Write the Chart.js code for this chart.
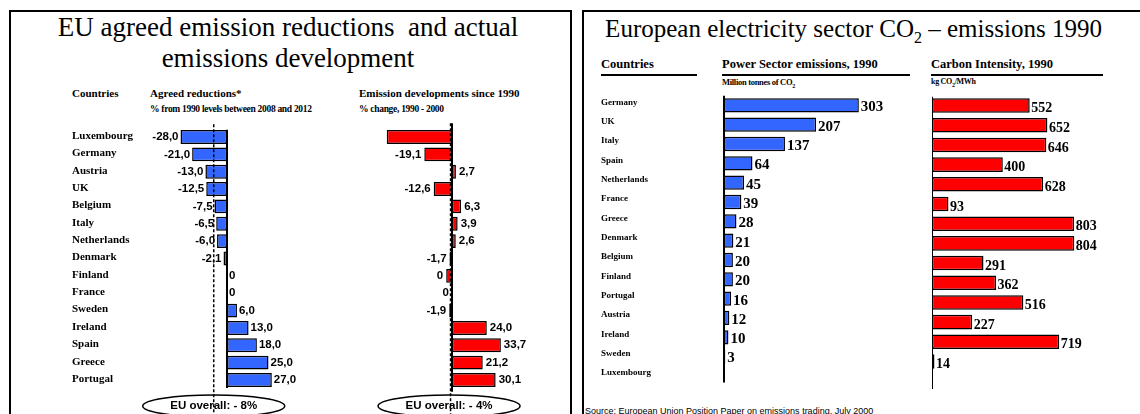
<!DOCTYPE html>
<html>
<head>
<meta charset="utf-8">
<script src="https://cdn.jsdelivr.net/npm/chart.js@4.4.1/dist/chart.umd.min.js"></script>
<style>
  html, body { margin:0; padding:0; background:#fff; }
  body { width:1140px; height:414px; overflow:hidden; position:relative; }
  .abs { position:absolute; white-space:nowrap; color:#000; }
  .serif { font-family:"Liberation Serif","Times New Roman",serif; }
  .sans { font-family:"Liberation Sans",Arial,sans-serif; }
  .panel { position:absolute; box-sizing:border-box; border:2px solid #000; }
  canvas { position:absolute; }
  .ul { position:absolute; height:2px; background:#000; }
</style>
</head>
<body>
<div class="panel" style="left:9px;top:10px;width:563px;height:460px;"></div>
<div class="panel" style="left:582px;top:10px;width:700px;height:460px;"></div>

<div class="abs serif" style="left:10px;width:556px;text-align:center;top:14px;font-size:27px;line-height:27px;">EU agreed emission reductions&nbsp; and actual</div>
<div class="abs serif" style="left:10px;width:556px;text-align:center;top:45px;font-size:27px;line-height:27px;">emissions development</div>

<div class="abs serif" style="left:72px;top:88px;font-size:11px;line-height:11px;font-weight:bold;">Countries</div>
<div class="abs serif" style="left:150px;top:88px;font-size:11px;line-height:11px;font-weight:bold;">Agreed reductions*</div>
<div class="abs serif" style="left:150px;top:105px;font-size:9.5px;line-height:9.5px;font-weight:bold;letter-spacing:-0.3px;">% from 1990 levels between 2008 and 2012</div>
<div class="abs serif" style="left:359px;top:88px;font-size:11px;line-height:11px;font-weight:bold;">Emission developments since 1990</div>
<div class="abs serif" style="left:359px;top:105px;font-size:9.5px;line-height:9.5px;font-weight:bold;letter-spacing:-0.3px;">% change, 1990 - 2000</div>

<div class="abs serif" style="left:586px;width:535px;text-align:center;top:16px;font-size:25px;line-height:25px;">European electricity sector CO<sub style="font-size:16px;line-height:0;">2</sub> – emissions 1990</div>

<div class="abs serif" style="left:601px;top:57.5px;font-size:12.5px;line-height:12.5px;font-weight:bold;">Countries</div>
<div class="ul" style="left:601px;top:74px;width:96px;"></div>
<div class="abs serif" style="left:722px;top:57.5px;font-size:12.5px;line-height:12.5px;font-weight:bold;">Power Sector emissions, 1990</div>
<div class="ul" style="left:722px;top:74px;width:188px;"></div>
<div class="abs serif" style="left:931px;top:57.5px;font-size:12.5px;line-height:12.5px;font-weight:bold;">Carbon Intensity, 1990</div>
<div class="ul" style="left:931px;top:74px;width:172px;"></div>
<div class="abs serif" style="left:722px;top:78px;font-size:8.5px;line-height:8.5px;font-weight:bold;letter-spacing:-0.3px;">Million tonnes of CO<sub style="font-size:6px;line-height:0;">2</sub></div>
<div class="abs serif" style="left:931px;top:78px;font-size:8px;line-height:8px;font-weight:bold;letter-spacing:-0.3px;">kg CO<sub style="font-size:6px;line-height:0;">2</sub>/MWh</div>

<div class="abs sans" style="left:585px;top:407px;font-size:9px;line-height:9px;">Source: European Union Position Paper on emissions trading, July 2000</div>

<canvas id="cAgreed" width="238" height="294" style="left:72px;top:120px;"></canvas>
<canvas id="cEmis" width="174" height="294" style="left:365px;top:120px;"></canvas>
<canvas id="cPower" width="301" height="301" style="left:601px;top:90px;"></canvas>
<canvas id="cCarbon" width="177" height="301" style="left:932px;top:90px;"></canvas>

<script>
// ---------- data ----------
const euCountries = ["Luxembourg","Germany","Austria","UK","Belgium","Italy","Netherlands","Denmark","Finland","France","Sweden","Ireland","Spain","Greece","Portugal"];
const agreedReductions = [-28.0,-21.0,-13.0,-12.5,-7.5,-6.5,-6.0,-2.1,0,0,6.0,13.0,18.0,25.0,27.0];
const emissionChange = [-45,-19.1,2.7,-12.6,6.3,3.9,2.6,-1.7,-4,0,-1.9,24.0,33.7,21.2,30.1];
const emissionChangeLabels = ["","-19,1","2,7","-12,6","6,3","3,9","2,6","-1,7","0","0","-1,9","24,0","33,7","21,2","30,1"];
const euOverallAgreed = -8;
const euOverallAgreedText = "EU overall: - 8%";
const euOverallActualLine = -1;
const euOverallActualText = "EU overall: - 4%";

const powerCountries = ["Germany","UK","Italy","Spain","Netherlands","France","Greece","Denmark","Belgium","Finland","Portugal","Austria","Ireland","Sweden","Luxembourg"];
const powerEmissions = [303,207,137,64,45,39,28,21,20,20,16,12,10,3,null];
const carbonIntensity = [552,652,646,400,628,93,803,804,291,362,516,227,719,14,null];

// ---------- helpers ----------
const BLUE = '#3366ff', RED = '#ff0000';
const fmtComma = v => v === 0 ? '0' : v.toFixed(1).replace('.', ',');

const decor = {
  id: 'decor',
  afterDatasetsDraw(chart, args, o) {
    const ctx = chart.ctx, xs = chart.scales.x, a = chart.chartArea;
    const meta = chart.getDatasetMeta(0);
    const data = chart.data.datasets[0].data;
    const x0 = xs.getPixelForValue(0);
    ctx.save();
    if (o.ref != null) {
      const xr = xs.getPixelForValue(o.ref);
      ctx.strokeStyle = '#000';
      ctx.lineWidth = 1.5;
      ctx.setLineDash([3, 2]);
      ctx.beginPath();
      ctx.moveTo(xr, a.top + o.refTop);
      ctx.lineTo(xr, chart.height);
      ctx.stroke();
      ctx.setLineDash([]);
    }
    ctx.strokeStyle = '#000';
    ctx.lineWidth = 2;
    ctx.beginPath();
    ctx.moveTo(x0, a.top + o.axisTop);
    ctx.lineTo(x0, a.bottom + o.axisBottom);
    ctx.stroke();
    ctx.fillStyle = '#000';
    ctx.font = o.font;
    ctx.textBaseline = 'middle';
    meta.data.forEach((bar, i) => {
      const v = data[i];
      if (v == null) return;
      const txt = o.labels[i];
      if (txt === '' || txt == null) return;
      const left = v < 0 || (v === 0 && o.zeroLeft);
      ctx.textAlign = left ? 'right' : 'left';
      const x = left ? Math.min(bar.x, x0) - o.gap : Math.max(bar.x, x0) + o.gap;
      ctx.fillText(txt, x, bar.y + o.dy);
    });
    if (o.ellipse) {
      const cx = xs.getPixelForValue(o.ref);
      const cy = a.bottom + 17.3;
      ctx.lineWidth = 1.5;
      ctx.beginPath();
      ctx.ellipse(cx + o.ellipse.dx, cy, 71, 11, 0, 0, Math.PI * 2);
      ctx.stroke();
      ctx.font = 'bold 11.5px "Liberation Sans", Arial, sans-serif';
      ctx.textAlign = 'center';
      ctx.fillText(o.ellipse.text, cx + o.ellipse.dx, cy);
    }
    ctx.restore();
  }
};

function makeChart(id, cfg) {
  return new Chart(document.getElementById(id), {
    type: 'bar',
    data: {
      labels: cfg.labels,
      datasets: [{
        data: cfg.data,
        backgroundColor: cfg.color,
        borderColor: '#000',
        borderWidth: 1.5,
        borderSkipped: false,
        barPercentage: cfg.barPct,
        categoryPercentage: 1
      }]
    },
    options: {
      indexAxis: 'y',
      responsive: false,
      animation: false,
      devicePixelRatio: 1,
      layout: { padding: cfg.padding },
      plugins: {
        legend: { display: false },
        tooltip: { enabled: false },
        decor: cfg.decor
      },
      scales: {
        x: { display: false, min: cfg.min, max: cfg.max },
        y: cfg.yAxis
      }
    },
    plugins: [decor]
  });
}

const hiddenY = { display: false };

makeChart('cAgreed', {
  labels: euCountries,
  data: agreedReductions,
  color: BLUE,
  barPct: 0.8,
  min: -40, max: 50,
  padding: { top: 8.3, bottom: 25.3, left: 0, right: 0 },
  yAxis: {
    display: true,
    grid: { display: false },
    border: { display: false },
    ticks: {
      crossAlign: 'far', padding: 0, color: '#000', labelOffset: -1,
      font: { family: '"Liberation Serif", "Times New Roman", serif', size: 11, weight: 'bold' }
    },
    afterFit(s) { s.width = 88.6; }
  },
  decor: {
    labels: agreedReductions.map(fmtComma),
    font: 'bold 11.5px "Liberation Sans", Arial, sans-serif',
    gap: 2, dy: 0, zeroLeft: false,
    axisTop: 1.5, axisBottom: -0.7,
    ref: euOverallAgreed, refTop: -4,
    ellipse: { text: euOverallAgreedText, dx: 0 }
  }
});

makeChart('cEmis', {
  labels: euCountries,
  data: emissionChange,
  color: RED,
  barPct: 0.8,
  min: -60, max: 60,
  padding: { top: 8.3, bottom: 25.3, left: 0, right: 0 },
  yAxis: hiddenY,
  decor: {
    labels: emissionChangeLabels,
    font: 'bold 11.5px "Liberation Sans", Arial, sans-serif',
    gap: 3, dy: 0, zeroLeft: true,
    axisTop: -5, axisBottom: 3,
    ref: euOverallActualLine, refTop: -5,
    ellipse: { text: euOverallActualText, dx: -1.5 }
  }
});

makeChart('cPower', {
  labels: powerCountries,
  data: powerEmissions,
  color: BLUE,
  barPct: 0.74,
  min: 0, max: 400,
  padding: { top: 5.7, bottom: 0, left: 0, right: 0 },
  yAxis: {
    display: true,
    grid: { display: false },
    border: { display: false },
    ticks: {
      crossAlign: 'far', padding: 0, color: '#000', labelOffset: -3,
      font: { family: '"Liberation Serif", "Times New Roman", serif', size: 9, weight: 'bold' }
    },
    afterFit(s) { s.width = 123; }
  },
  decor: {
    labels: powerEmissions.map(v => v == null ? '' : String(v)),
    font: 'bold 15px "Liberation Serif", "Times New Roman", serif',
    gap: 2, dy: 2, zeroLeft: false,
    axisTop: 0, axisBottom: -3
  }
});

makeChart('cCarbon', {
  labels: powerCountries,
  data: carbonIntensity,
  color: RED,
  barPct: 0.74,
  min: 0, max: 1000,
  padding: { top: 5.7, bottom: 0, left: 0, right: 0 },
  yAxis: hiddenY,
  decor: {
    labels: carbonIntensity.map(v => v == null ? '' : String(v)),
    font: 'bold 14px "Liberation Serif", "Times New Roman", serif',
    gap: 1.5, dy: 3, zeroLeft: false,
    axisTop: 1, axisBottom: -2
  }
});
</script>
</body>
</html>
